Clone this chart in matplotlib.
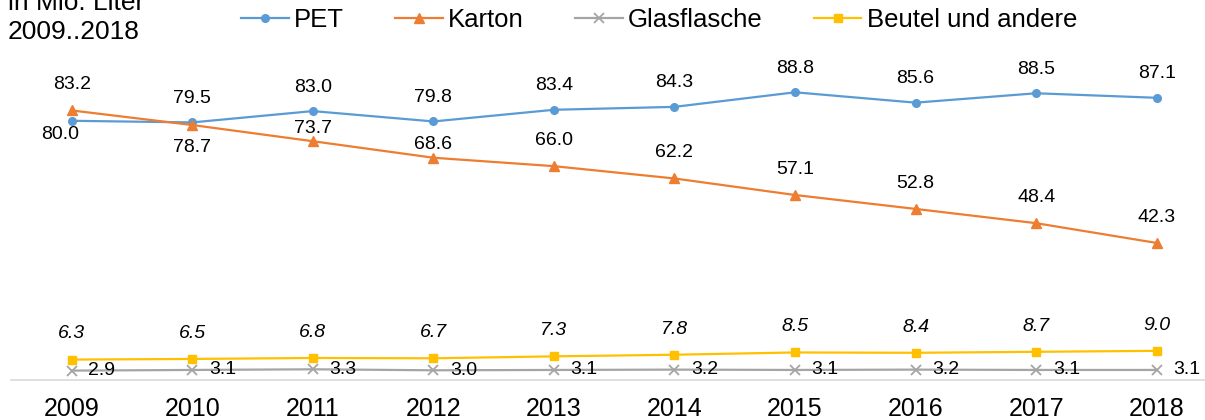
import matplotlib
matplotlib.use("Agg")
from matplotlib import pyplot as plt
from matplotlib.lines import Line2D

# Daten: Getränkeverpackungen in Mio. Liter
jahre = ["2009", "2010", "2011", "2012", "2013", "2014", "2015", "2016", "2017", "2018"]
pet = [80.0, 79.5, 83.0, 79.8, 83.4, 84.3, 88.8, 85.6, 88.5, 87.1]
karton = [83.2, 78.7, 73.7, 68.6, 66.0, 62.2, 57.1, 52.8, 48.4, 42.3]
glas = [2.9, 3.1, 3.3, 3.0, 3.1, 3.2, 3.1, 3.2, 3.1, 3.1]
beutel = [6.3, 6.5, 6.8, 6.7, 7.3, 7.8, 8.5, 8.4, 8.7, 9.0]

# Farben wie in Excel
blau = "#5B9BD5"
orange = "#ED7D31"
grau = "#A5A5A5"
gelb = "#FFC000"

# Versatz der Beschriftungen in Punkten (dx, dy)
pet_versatz = [(-8, -9.7)] + [(0, 17.3)] * 9
karton_versatz = [(0, 18.5), (0, -16.5), (0, 8.8), (0, 9.5)] + [(0, 18.5)] * 6
beutel_versatz = [(0, 18.5)] * 10
glas_versatz = [(12, 0)] * 10


def beschriften(ax, werte, versatz, ha="center", style="normal"):
    for i, w in enumerate(werte):
        ax.annotate("%.1f" % w, (i, w), xytext=versatz[i], textcoords="offset points",
                    ha=ha, va="center", fontsize=14, style=style, color="black")


def main():
    plt.rcParams["font.family"] = ["Liberation Sans", "DejaVu Sans"]
    fig = plt.figure(figsize=(12.05, 4.2), dpi=100)
    ax = fig.add_axes([0.00946, 40 / 420, 1.0005, 324 / 420])

    x = list(range(len(jahre)))
    ax.plot(x, pet, color=blau, linewidth=1.6, marker="o", markersize=5.5, clip_on=False)
    ax.plot(x, karton, color=orange, linewidth=1.6, marker="^", markersize=7, clip_on=False)
    ax.plot(x, glas, color=grau, linewidth=1.6, marker="x", markersize=6.5,
            markeredgewidth=1.3, clip_on=False)
    ax.plot(x, beutel, color=gelb, linewidth=1.6, marker="s", markersize=5.5, clip_on=False)

    beschriften(ax, pet, pet_versatz)
    beschriften(ax, karton, karton_versatz)
    beschriften(ax, beutel, beutel_versatz, style="italic")
    beschriften(ax, glas, glas_versatz, ha="left")

    ax.set_xlim(-0.5, 9.5)
    ax.set_ylim(0, 100)
    ax.set_xticks(x)
    ax.set_xticklabels(jahre, fontsize=18)
    ax.tick_params(axis="x", length=0, pad=12, colors="black")
    ax.set_yticks([])
    for s in ["left", "right", "top"]:
        ax.spines[s].set_visible(False)
    ax.spines["bottom"].set_color("#D9D9D9")
    ax.spines["bottom"].set_linewidth(1.2)

    # Titel oben links (oberste Zeile ist im Original angeschnitten)
    fig.text(0.0066, 1 - 10 / 420, "in Mio. Liter", fontsize=19, va="baseline", ha="left")
    fig.text(0.0066, 1 - 39 / 420, "2009..2018", fontsize=19, va="baseline", ha="left")

    # Legende
    griffe = [
        Line2D([], [], color=blau, linewidth=1.6, marker="o", markersize=5.5),
        Line2D([], [], color=orange, linewidth=1.6, marker="^", markersize=7),
        Line2D([], [], color=grau, linewidth=1.6, marker="x", markersize=6.5, markeredgewidth=1.3),
        Line2D([], [], color=gelb, linewidth=1.6, marker="s", markersize=5.5),
    ]
    namen = ["PET", "Karton", "Glasflasche", "Beutel und andere"]
    fig.legend(griffe, namen, loc="center", bbox_to_anchor=(0.547, 1 - 20 / 420), ncol=4,
               frameon=False, fontsize=18.5, handlelength=1.85, handletextpad=0.2,
               columnspacing=2.0, borderpad=0, borderaxespad=0)

    fig.savefig("out.png", dpi=100)


if __name__ == "__main__":
    main()
